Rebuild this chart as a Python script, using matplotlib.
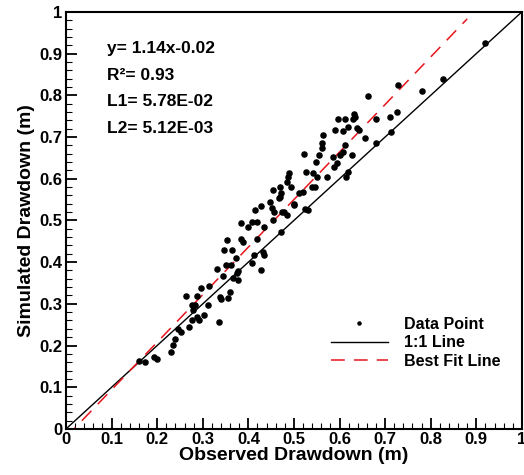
import numpy as np
import matplotlib
matplotlib.use('Agg')
import matplotlib.pyplot as plt
from matplotlib.ticker import MultipleLocator

plt.rcParams['font.family'] = ['Liberation Sans', 'DejaVu Sans']
plt.rcParams['font.weight'] = 'bold'

# observed vs simulated drawdown (m)
observed = [0.159, 0.173, 0.194, 0.200, 0.230, 0.235, 0.239, 0.246, 0.252, 0.270,
            0.276, 0.288, 0.292, 0.303, 0.276, 0.283, 0.279, 0.311, 0.336, 0.263,
            0.287, 0.296, 0.314, 0.338, 0.341, 0.356, 0.360, 0.345, 0.367, 0.332,
            0.351, 0.378, 0.376, 0.378, 0.362, 0.372, 0.347, 0.363, 0.354, 0.383,
            0.388, 0.420, 0.412, 0.431, 0.434, 0.428, 0.409, 0.383, 0.400, 0.407,
            0.420, 0.435, 0.455, 0.471, 0.414, 0.428, 0.447, 0.452, 0.457, 0.469,
            0.471, 0.474, 0.479, 0.485, 0.499, 0.455, 0.467, 0.469, 0.484, 0.489,
            0.493, 0.486, 0.512, 0.520, 0.501, 0.524, 0.531, 0.539, 0.546, 0.550,
            0.542, 0.526, 0.548, 0.555, 0.522, 0.561, 0.562, 0.563, 0.572, 0.585,
            0.594, 0.601, 0.608, 0.612, 0.627, 0.619, 0.614, 0.591, 0.608, 0.619,
            0.639, 0.643, 0.597, 0.612, 0.629, 0.632, 0.634, 0.656, 0.681, 0.680,
            0.662, 0.712, 0.711, 0.725, 0.729, 0.780, 0.827, 0.919, 0.588]
simulated = [0.164, 0.161, 0.172, 0.168, 0.185, 0.201, 0.215, 0.239, 0.233, 0.245,
             0.261, 0.269, 0.261, 0.273, 0.297, 0.297, 0.285, 0.297, 0.257, 0.319,
             0.319, 0.337, 0.343, 0.317, 0.311, 0.313, 0.329, 0.367, 0.361, 0.384,
             0.393, 0.357, 0.373, 0.379, 0.393, 0.409, 0.428, 0.429, 0.453, 0.456,
             0.449, 0.456, 0.416, 0.425, 0.417, 0.381, 0.397, 0.493, 0.484, 0.497,
             0.495, 0.483, 0.501, 0.473, 0.525, 0.534, 0.543, 0.529, 0.519, 0.557,
             0.565, 0.519, 0.521, 0.512, 0.540, 0.573, 0.553, 0.579, 0.593, 0.613,
             0.579, 0.605, 0.565, 0.569, 0.537, 0.527, 0.525, 0.581, 0.581, 0.605,
             0.613, 0.617, 0.640, 0.657, 0.659, 0.673, 0.685, 0.705, 0.605, 0.652,
             0.637, 0.657, 0.663, 0.681, 0.657, 0.617, 0.603, 0.717, 0.715, 0.724,
             0.721, 0.717, 0.743, 0.743, 0.743, 0.755, 0.747, 0.697, 0.685, 0.743,
             0.799, 0.711, 0.747, 0.761, 0.825, 0.811, 0.839, 0.926, 0.629]

slope, intercept = 1.14, -0.02
stats = ['y= 1.14x-0.02', 'R\u00b2= 0.93', 'L1= 5.78E-02', 'L2= 5.12E-03']
tick_vals = [0, 0.1, 0.2, 0.3, 0.4, 0.5, 0.6, 0.7, 0.8, 0.9, 1]
tick_text = ['0', '0.1', '0.2', '0.3', '0.4', '0.5', '0.6', '0.7', '0.8', '0.9', '1']

fig = plt.figure(figsize=(5.24, 4.75), dpi=100)
ax = fig.add_axes([0.126, 0.097, 0.870, 0.878])

ax.plot(observed, simulated, 'o', color='black', markersize=3.7, label='Data Point', zorder=3)
ax.plot([0, 1], [0, 1], color='black', linewidth=1, label='1:1 Line')
fit_x = np.array([0, 0.88])
ax.plot(fit_x, slope * fit_x + intercept, color='#e8141c', linewidth=1.1,
        dashes=(9, 6), label='Best Fit Line')

ax.set_xlim(0, 1)
ax.set_ylim(0, 1)
ax.xaxis.set_minor_locator(MultipleLocator(0.02))
ax.yaxis.set_minor_locator(MultipleLocator(0.02))
ax.set_xticks(tick_vals)
ax.set_xticklabels(tick_text)
ax.set_yticks(tick_vals)
ax.set_yticklabels(tick_text)
ax.tick_params(which='both', direction='in', top=False, right=False,
               labelsize=12, width=1.3, pad=2.5)
ax.tick_params(which='major', length=8)
ax.tick_params(which='minor', length=4, width=0.8)
for sp in ax.spines.values():
    sp.set_linewidth(1.5)

ax.set_xlabel('Observed Drawdown (m)', fontsize=14, fontweight='bold', labelpad=0)
ax.set_ylabel('Simulated Drawdown (m)', fontsize=14, fontweight='bold', labelpad=3)

for i, s in enumerate(stats):
    ax.text(0.09, 0.912 - i * 0.064, s, fontsize=12.5, fontweight='bold', va='center')

ax.legend(loc='lower right', bbox_to_anchor=(0.985, 0.11), frameon=False,
          fontsize=11.5, handlelength=3.6, handletextpad=1.0, labelspacing=0.22,
          markerscale=0.6)

fig.savefig('out.png', dpi=100)
